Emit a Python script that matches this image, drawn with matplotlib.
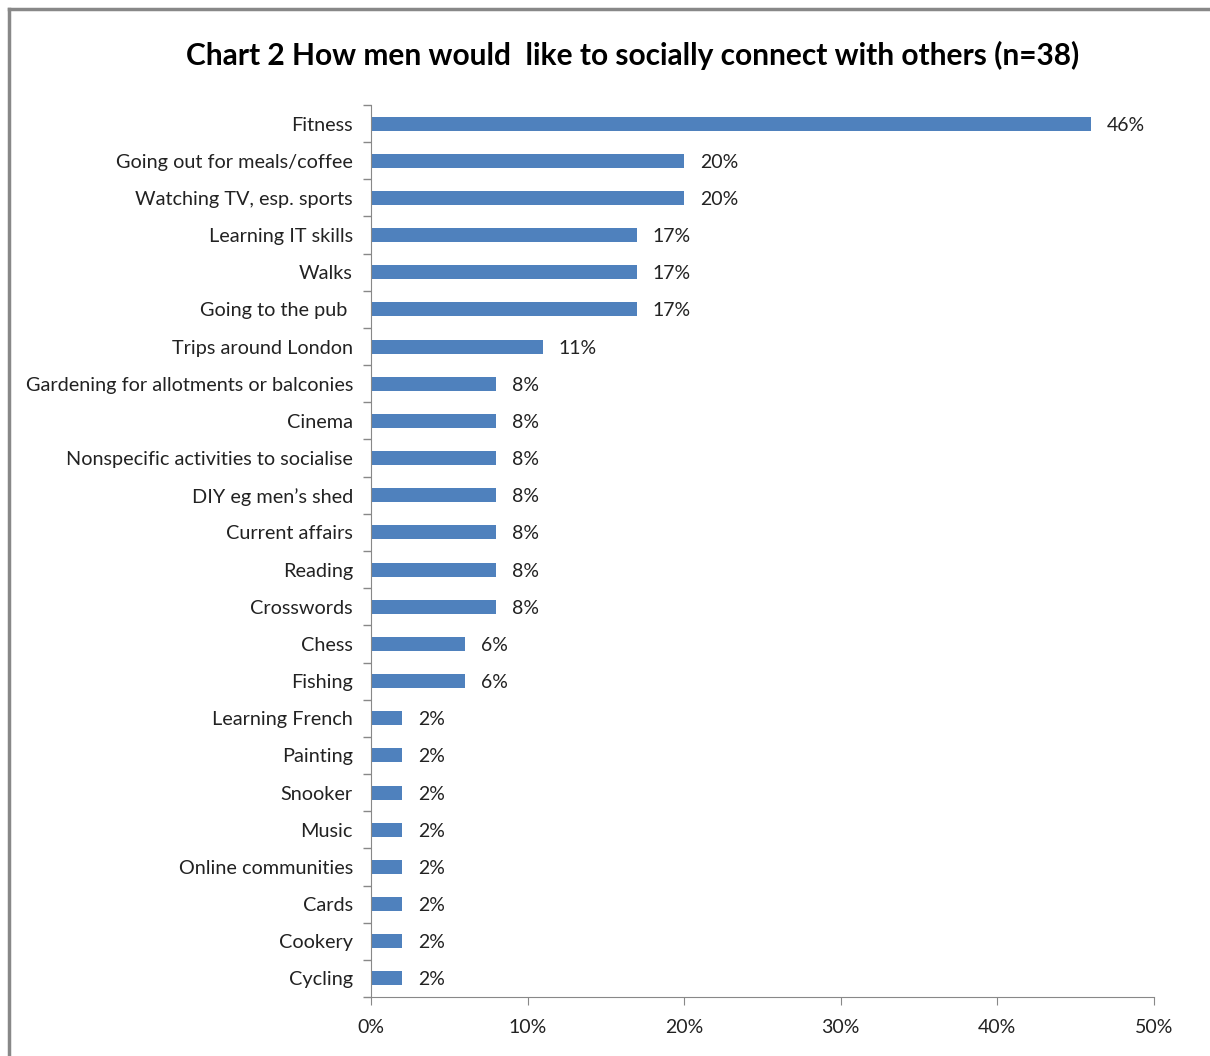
import matplotlib.pyplot as plt
from matplotlib.lines import Line2D
from matplotlib.ticker import FuncFormatter, MultipleLocator

categories = [
    'Fitness', 'Going out for meals/coffee', 'Watching TV, esp. sports',
    'Learning IT skills', 'Walks', 'Going to the pub ', 'Trips around London',
    'Gardening for allotments or balconies', 'Cinema',
    'Nonspecific activities to socialise', 'DIY eg men\u2019s shed',
    'Current affairs', 'Reading', 'Crosswords', 'Chess', 'Fishing',
    'Learning French', 'Painting', 'Snooker', 'Music', 'Online communities',
    'Cards', 'Cookery', 'Cycling',
]
values = [46, 20, 20, 17, 17, 17, 11, 8, 8, 8, 8, 8, 8, 8, 6, 6,
          2, 2, 2, 2, 2, 2, 2, 2]

plt.rcParams['font.family'] = ['Lato', 'DejaVu Sans']

fig = plt.figure(figsize=(12.1, 10.56), dpi=100)
ax = fig.add_axes([371 / 1210, 1 - 997 / 1056, (1154 - 371) / 1210, (997 - 105) / 1056])

pos = list(range(len(categories)))
ax.barh(pos, values, height=0.38, color='#4F81BD')
for p, v in zip(pos, values):
    ax.text(v + 1.0, p, f'{v}%', va='center_baseline', ha='left', fontsize=14, color='#222222')

ax.set_ylim(len(categories) - 0.5, -0.5)
ax.set_xlim(0, 50)
ax.set_yticks(pos)
ax.set_yticklabels(categories, fontsize=14.3, color='#222222', va='center_baseline')
ax.set_yticks([p - 0.5 for p in range(len(categories) + 1)], minor=True)
ax.tick_params(axis='y', which='major', length=0, pad=13)
ax.tick_params(axis='y', which='minor', length=6, color='#888888', width=1)
ax.xaxis.set_major_locator(MultipleLocator(10))
ax.xaxis.set_major_formatter(FuncFormatter(lambda x, _: f'{x:.0f}%'))
ax.tick_params(axis='x', length=6, color='#888888', labelsize=14, labelcolor='#222222', pad=10)

for s in ['top', 'right']:
    ax.spines[s].set_visible(False)
for s in ['left', 'bottom']:
    ax.spines[s].set_color('#888888')

fig.text(633 / 1210, 1 - 55 / 1056, 'Chart 2 How men would  like to socially connect with others (n=38)',
         ha='center', va='center', fontsize=21.5, fontweight='bold')

# outer chart frame (cropped on right/bottom)
fig.add_artist(Line2D([9 / 1210, 9 / 1210], [0, 1 - 9 / 1056], color='#888888', lw=2.5,
                      transform=fig.transFigure))
fig.add_artist(Line2D([9 / 1210, 1], [1 - 9 / 1056, 1 - 9 / 1056], color='#888888', lw=2.5,
                      transform=fig.transFigure))

fig.savefig('out.png', dpi=100)
